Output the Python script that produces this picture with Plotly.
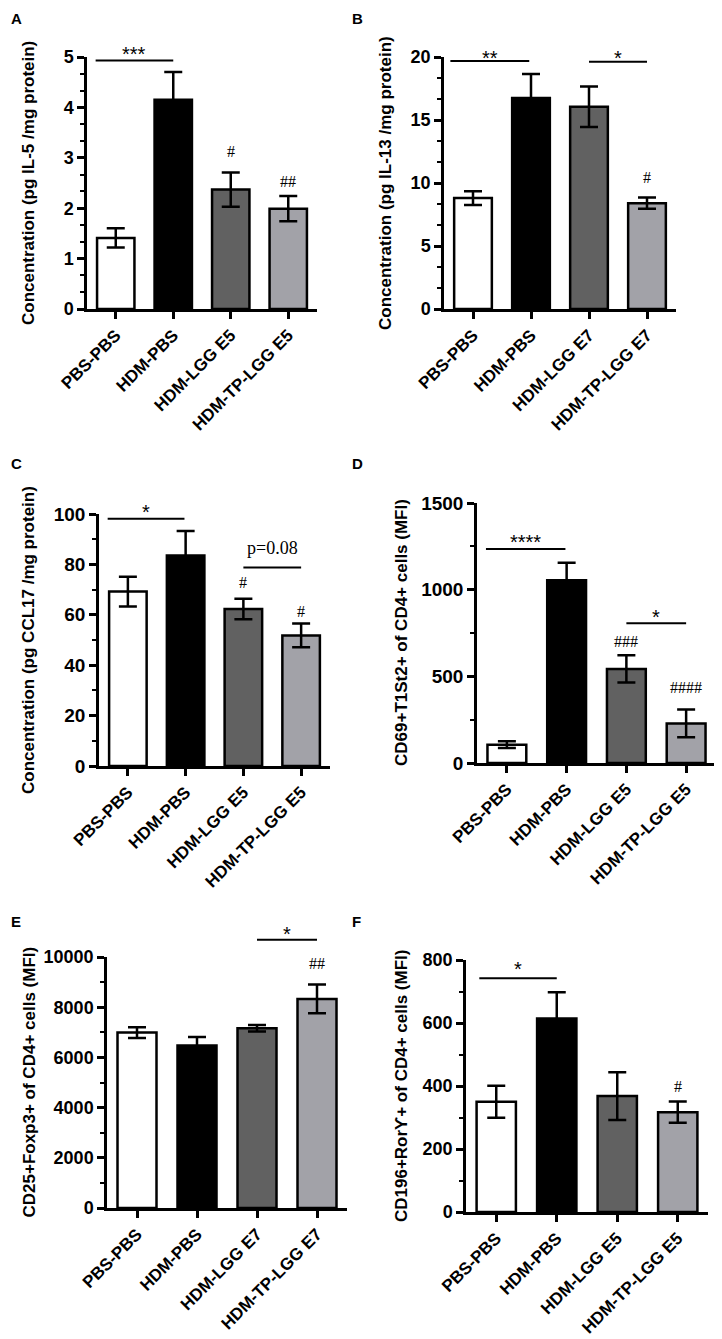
# bar charts, 6 panels (A-F), GraphPad style

import plotly.graph_objects as go

# groups / colours

groups_e5 = ["PBS-PBS", "HDM-PBS", "HDM-LGG E5", "HDM-TP-LGG E5"]
groups_e7 = ["PBS-PBS", "HDM-PBS", "HDM-LGG E7", "HDM-TP-LGG E7"]
bar_colors = ["#ffffff", "#000000", "#616161", "#a2a2a8"]

# values (mean, sem)

il5_mean = [1.41, 4.15, 2.37, 1.99]
il5_sem = [0.19, 0.55, 0.34, 0.25]

il13_mean = [8.8, 16.75, 16.05, 8.4]
il13_sem = [0.55, 1.9, 1.6, 0.45]

ccl17_mean = [69.2, 83.5, 62.3, 51.8]
ccl17_sem = [5.9, 9.8, 4.1, 4.7]

cd69_mean = [106, 1055, 543, 228]
cd69_sem = [19, 100, 79, 80]

cd25_mean = [6990, 6470, 7160, 8330]
cd25_sem = [215, 340, 130, 570]

cd196_mean = [350, 614, 368, 317]
cd196_sem = [51, 84, 76, 34]

# significance brackets: (from group, to group, height, label, label height)
il5_sig = [(-0.35, 1.0, 4.93, "***", 5.13)]
il13_sig = [(-0.39, 0.97, 19.68, "**", 20.24), (2.0, 3.0, 19.63, "*", 20.2)]
ccl17_sig = [(-0.35, 0.98, 98.1, "*", 102.2), (2.0, 3.0, 78.8, "p=0.08", 86.4)]
cd69_sig = [(-0.35, 0.98, 1235, "****", 1298), (2.0, 3.0, 806, "*", 865)]
cd25_sig = [(2.0, 3.0, 10689, "*", 11060)]
cd196_sig = [(-0.28, 1.0, 742, "*", 784)]

# hash marks vs HDM-PBS: (group, height, label)
il5_hash = [(2, 3.13, "#"), (3, 2.53, "##")]
il13_hash = [(3, 10.4, "#")]
ccl17_hash = [(2, 72.8, "#"), (3, 61.2, "#")]
cd69_hash = [(2, 702, "###"), (3, 433, "####")]
cd25_hash = [(3, 9735, "##")]
cd196_hash = [(3, 398, "#")]

# page has an 8px body margin, so the figure is a bit smaller than the window
OFF = 8
W, H = 722 - OFF, 1339 - OFF


def fx(v):
    return (v - OFF) / W


def fy(v):
    return 1 - (v - OFF) / H


panels = [
    dict(letter="A", groups=groups_e5, mean=il5_mean, sem=il5_sem, ymax=5, dtick=1, minor=1 / 3,
         title="Concentration (pg IL-5 /mg protein)", px=(87, 317), py=(57, 309), tx=28,
         sig=il5_sig, hashes=il5_hash, lx=9, ly=8, fs=18),
    dict(letter="B", groups=groups_e7, mean=il13_mean, sem=il13_sem, ymax=20, dtick=5, minor=5 / 3,
         title="Concentration (pg IL-13 /mg protein)", px=(444, 676), py=(57, 309), tx=385,
         sig=il13_sig, hashes=il13_hash, lx=350, ly=8, fs=18),
    dict(letter="C", groups=groups_e5, mean=ccl17_mean, sem=ccl17_sem, ymax=100, dtick=20, minor=10,
         title="Concentration (pg CCL17 /mg protein)", px=(99, 330), py=(514, 766), tx=28,
         sig=ccl17_sig, hashes=ccl17_hash, lx=9, ly=453, fs=19),
    dict(letter="D", groups=groups_e5, mean=cd69_mean, sem=cd69_sem, ymax=1500, dtick=500, minor=250,
         title="CD69+T1St2+ of CD4+ cells (MFI)", px=(477, 716), py=(503, 763), tx=401,
         sig=cd69_sig, hashes=cd69_hash, lx=350, ly=453, fs=19),
    dict(letter="E", groups=groups_e7, mean=cd25_mean, sem=cd25_sem, ymax=10000, dtick=2000, minor=1000,
         title="CD25+Foxp3+ of CD4+ cells (MFI)", px=(107, 347), py=(957, 1208), tx=29,
         sig=cd25_sig, hashes=cd25_hash, lx=9, ly=911, fs=18),
    dict(letter="F", groups=groups_e5, mean=cd196_mean, sem=cd196_sem, ymax=800, dtick=200, minor=100,
         title="CD196+Rorϒ+ of CD4+ cells (MFI)", px=(466, 708), py=(960, 1212), tx=401,
         sig=cd196_sig, hashes=cd196_hash, lx=350, ly=911, fs=18),
]

sans = "Liberation Sans, Arial"
serif = "Liberation Serif, Times New Roman"

fig = go.Figure()
shapes = []
annotations = []
layout = {}

for i, p in enumerate(panels):
    n = "" if i == 0 else str(i + 1)
    xa, ya = "x" + n, "y" + n

    fig.add_trace(go.Bar(
        x=p["groups"], y=p["mean"], xaxis=xa, yaxis=ya, width=0.65,
        marker=dict(color=bar_colors, line=dict(color="black", width=2.5)),
        error_y=dict(type="data", array=p["sem"], color="black", thickness=2.5, width=9),
        showlegend=False,
    ))

    layout["xaxis" + n] = dict(
        domain=[fx(p["px"][0]), fx(p["px"][1])], anchor=ya, range=[-0.5, 3.5], automargin=False,
        showline=True, linecolor="black", linewidth=2.5, ticks="outside", ticklen=7,
        tickwidth=2.5, tickcolor="black", tickangle=-45, showgrid=False, zeroline=False,
        tickfont=dict(family=sans, size=17, color="black", weight="bold"),
    )
    layout["yaxis" + n] = dict(
        domain=[fy(p["py"][1]), fy(p["py"][0])], anchor=xa, range=[0, p["ymax"]],
        automargin=False, dtick=p["dtick"], tick0=0, tickformat="d",
        showline=True, linecolor="black", linewidth=2.5,
        ticks="outside", ticklen=7, tickwidth=2.5, tickcolor="black",
        minor=dict(dtick=p["minor"], tick0=0, ticks="outside", ticklen=4, tickwidth=2,
                   tickcolor="black", showgrid=False),
        showgrid=False, zeroline=False,
        tickfont=dict(family=sans, size=p["fs"], color="black", weight="bold"),
    )

    # axis title
    annotations.append(dict(
        x=fx(p["tx"]), y=fy((p["py"][0] + p["py"][1]) / 2), xref="paper", yref="paper",
        xanchor="center", yanchor="middle",
        text=p["title"], textangle=-90, showarrow=False,
        font=dict(family=sans, size=17, color="black", weight="bold"),
    ))
    # panel letter
    annotations.append(dict(
        x=fx(p["lx"]), y=fy(p["ly"]), xref="paper", yref="paper", xanchor="left", yanchor="top",
        text=p["letter"], showarrow=False,
        font=dict(family=sans, size=15, color="black", weight="bold"),
    ))

    # significance brackets
    for g0, g1, h, lab, lh in p["sig"]:
        shapes.append(dict(
            type="line", xref=xa + " domain", yref=ya + " domain",
            x0=(g0 + 0.5) / 4, x1=(g1 + 0.5) / 4, y0=h / p["ymax"], y1=h / p["ymax"],
            line=dict(color="black", width=2),
        ))
        if lab.startswith("p"):
            f = dict(family=serif, size=18, color="black")
            shift = 0
        else:
            f = dict(family=sans, size=20, color="black")
            shift = -4
        annotations.append(dict(
            x=(g0 + g1 + 1) / 8, y=lh / p["ymax"], xref=xa + " domain", yref=ya + " domain",
            xanchor="center", yanchor="middle",
            text=lab, showarrow=False, font=f, yshift=shift,
        ))

    for g, h, lab in p["hashes"]:
        annotations.append(dict(
            x=(g + 0.5) / 4, y=h / p["ymax"], xref=xa + " domain", yref=ya + " domain",
            xanchor="center", yanchor="middle",
            text=lab, showarrow=False, font=dict(family=serif, size=16, color="black"),
        ))

fig.update_layout(
    template="none",
    width=W, height=H, margin=dict(l=0, r=0, t=0, b=0),
    plot_bgcolor="white", paper_bgcolor="white", bargap=0.35,
    shapes=shapes, annotations=annotations, **layout,
)

fig.write_html("out.html")
